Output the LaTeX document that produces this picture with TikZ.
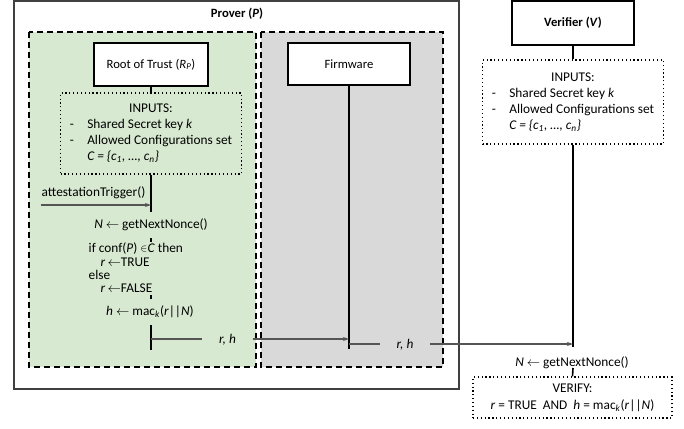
\documentclass[tikz,border=0pt]{standalone}
\usepackage{fontspec}
\setmainfont{Carlito}
\usepackage{tikz}
\usetikzlibrary{arrows.meta, positioning}
\definecolor{rotGreen}{RGB}{216,233,209}
\definecolor{fwGray}{RGB}{217,217,217}
\definecolor{edgeGray}{RGB}{64,64,64}
\definecolor{msgGray}{RGB}{85,85,85}
\newcommand{\inputsList}{%
  \begin{tabular}{@{}l@{\hspace{10pt}}l@{}}
  \multicolumn{2}{c}{INPUTS:}\\
  - & Shared Secret key \textit{k}\\
  - & Allowed Configurations set\\
    & \textit{C = \{c\textsubscript{1}, \dots, c\textsubscript{n}\}}
  \end{tabular}}
\newcommand{\nonceText}{\textit{N} $\leftarrow$ getNextNonce()}

\begin{document}
\begin{tikzpicture}[x=0.75pt, y=-0.75pt, font=\fontsize{10}{12}\selectfont,
  entity/.style={draw=black, line width=1.3pt, fill=white,
    font=\fontsize{9.5}{11}\selectfont},
  inbox/.style={draw=black, dotted, line width=0.9pt},
  lane/.style={draw=black, line width=1.1pt, dash pattern=on 4.5pt off 3pt},
  life/.style={line width=1.2pt},
  msg/.style={draw=msgGray, line width=0.8pt},
  tip/.style={-{Stealth[length=4.5pt,width=3pt]}},
  gap/.style={inner sep=0pt, minimum width=37.5pt}]
\useasboundingbox (0,0) rectangle (684,428);
\draw[draw=edgeGray, line width=1.5pt] (14,1.5) rectangle (459,389);
\node[font=\fontsize{9.5}{11}\selectfont\bfseries] (prover) at (237,14)
  {Prover (\textit{P})};
\draw[lane, fill=rotGreen] (29,32) rectangle (256,367);
\draw[lane, fill=fwGray] (261,32) rectangle (443,367);

\node[entity, minimum width=85.5pt, minimum height=32.25pt] (rot) at (151,64.5)
  {Root of Trust (\textit{R}\textsubscript{\textit{P}})};
\node[entity, minimum width=91.5pt, minimum height=31.5pt] (fw) at (349,64)
  {Firmware};
\node[entity, minimum width=91.5pt, minimum height=33pt,
  font=\fontsize{9.5}{11}\selectfont\bfseries] (ver) at (573,23)
  {Verifier (\textit{V})};
\node[inbox, minimum width=135.75pt, minimum height=60.75pt] (rotin) at (151,133.5)
  {\inputsList};
\node[inbox, minimum width=135.75pt, minimum height=63pt] (verin) at (573,102)
  {\inputsList};

\coordinate (trigS) at (41,205);
\coordinate (trigE) at (151,205);
\coordinate (rl1) at (151,212);
\coordinate (rl2) at (151,238);
\coordinate (rl3) at (151,242);
\coordinate (rl4) at (151,295);
\coordinate (rl5) at (151,299);
\coordinate (rl6) at (151,325);
\coordinate (rl7) at (151,350);
\coordinate (m1s) at (151,339);
\coordinate (m1e) at (349,339);
\coordinate (fwEnd) at (349,349);
\coordinate (m2s) at (349,344);
\coordinate (m2e) at (573,344);
\coordinate (verEnd) at (573,347);
\coordinate (vl1) at (573,368);

\node[anchor=west] (trig) at (37,193) {attestationTrigger()};
\node (rnonce) at (151,225) {\nonceText};
\node[anchor=west, align=left, font=\fontsize{10}{10}\selectfont] (check) at (84,268)
  {if conf(\textit{P}) \raisebox{1.2pt}{\scriptsize$\in$}\textit{C} then\\
   \hspace*{9pt}\textit{r}\,$\leftarrow$TRUE\\
   else\\
   \hspace*{9pt}\textit{r}\,$\leftarrow$FALSE};
\node (mac) at (150,312)
  {\textit{h} $\leftarrow$ mac\textsubscript{\textit{k}}(\textit{r}||\textit{N})};
\node[gap] (rh1) at (227.5,340) {\textit{r, h}};
\node[gap] (rh2) at (405,345) {\textit{r, h}};
\node (vnonce) at (572,363) {\nonceText};
\node[inbox, minimum width=149.25pt, minimum height=30.75pt, align=center]
  (verify) at (572.5,397.5)
  {VERIFY:\\[1pt]
   \textit{r} = TRUE\ \ AND\ \ \textit{h} = mac\textsubscript{\textit{k}}(\textit{r}||\textit{N})};

\draw[life] (rot.south) -- (rotin.north);
\draw[life] (rotin.south) -- (rl1);
\draw[life] (rl2) -- (rl3);
\draw[life] (rl4) -- (rl5);
\draw[life] (rl6) -- (rl7);
\draw[life] (fw.south) -- (fwEnd);
\draw[life] (ver.south) -- (verin.north);
\draw[life] (verin.south) -- (verEnd);
\draw[life] (vl1) -- (verify.north);

\draw[msg, tip] (trigS) -- (trigE);
\draw[msg] (m1s) -- (m1s -| rh1.west);
\draw[msg, tip] (m1s -| rh1.east) -- (m1e);
\draw[msg] (m2s) -- (m2s -| rh2.west);
\draw[msg, tip] (m2s -| rh2.east) -- (m2e);
\end{tikzpicture}
\end{document}
